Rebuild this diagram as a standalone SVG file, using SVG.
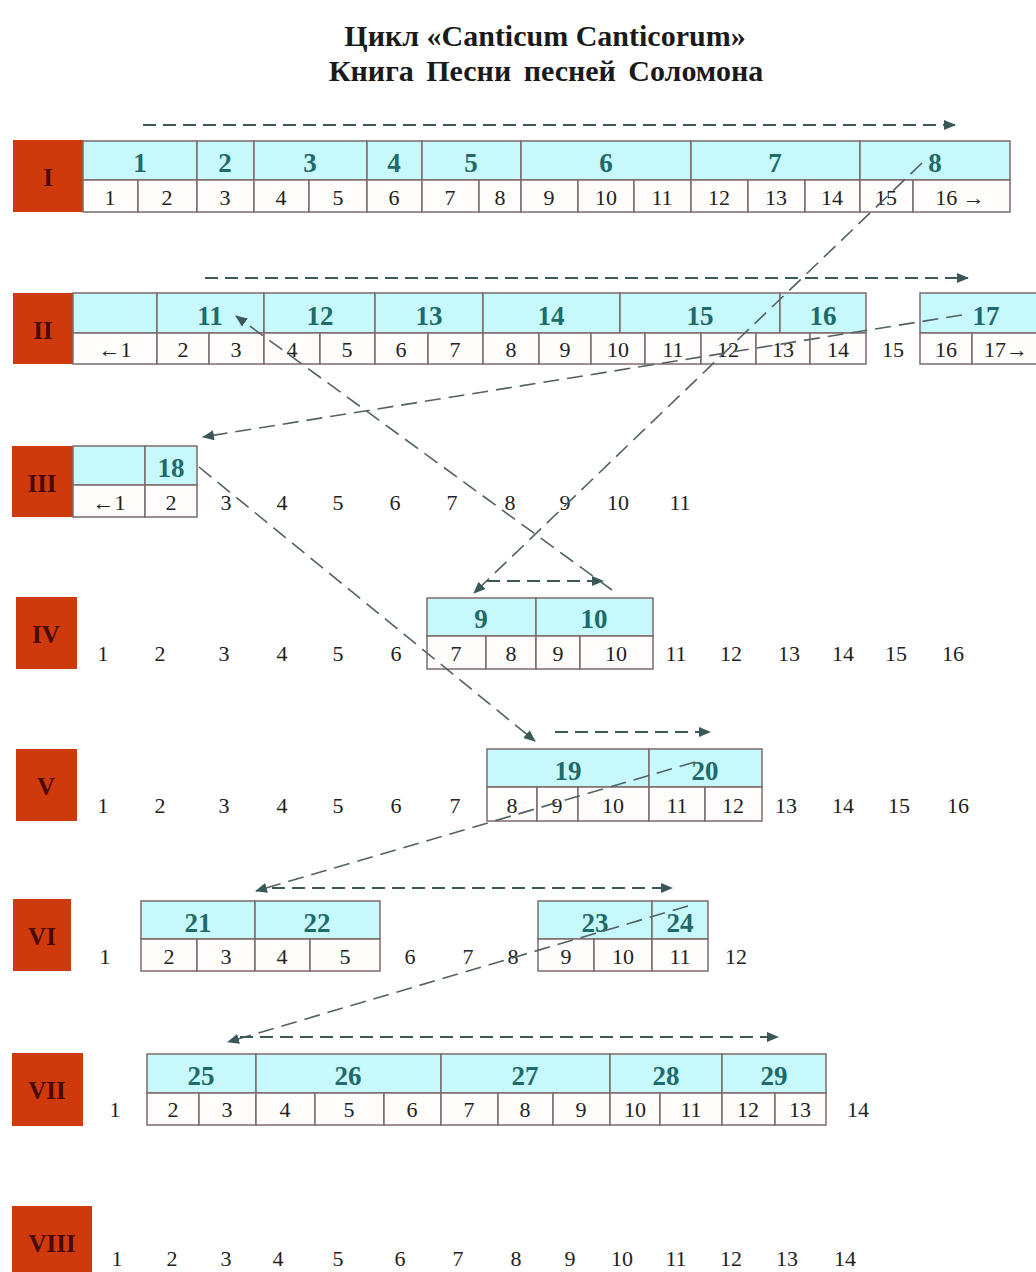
<svg xmlns="http://www.w3.org/2000/svg" width="1036" height="1272" viewBox="0 0 1036 1272">
<defs>
<style>
.bg{fill:#ffffff}
.title{font-family:"Liberation Serif","DejaVu Serif",serif;font-weight:bold;font-size:30px;fill:#1a1a1a;text-anchor:middle}
.box{fill:#CF3A0D}
.rn{font-family:"Liberation Serif",serif;font-weight:bold;font-size:25px;fill:#4A0906;text-anchor:middle}
.tc{fill:#C7F8FB;stroke:#7E6B6B;stroke-width:1.5}
.bc{fill:#FFFCFC;stroke:#7E6B6B;stroke-width:1.5}
.vn{font-family:"Liberation Serif",serif;font-weight:bold;font-size:27px;fill:#1F6A6A;text-anchor:middle}
.n{font-family:"Liberation Serif",serif;font-size:22px;fill:#222222;text-anchor:middle}
.ha{fill:none;stroke:#3A5858;stroke-width:2.2;stroke-dasharray:13 7;marker-end:url(#ah)}
.da{fill:none;stroke:#526262;stroke-width:1.6;stroke-dasharray:16 8;marker-end:url(#ah)}
</style>
<marker id="ah" viewBox="0 0 12 10" refX="11" refY="5" markerWidth="12" markerHeight="10" markerUnits="userSpaceOnUse" orient="auto">
<path d="M0,0 L12,5 L0,10 Z" fill="#3A5858"/>
</marker>
</defs>
<rect class="bg" x="0" y="0" width="1036" height="1272"/>

<g id="title">
<text class="title" x="545" y="46">Цикл «Canticum Canticorum»</text>
<text class="title" x="546" y="81" word-spacing="5">Книга Песни песней Соломона</text>
</g>

<g id="row-I">
<rect class="box" x="13" y="140" width="70" height="72"/>
<text class="rn" x="48" y="186">I</text>
<rect class="tc" x="83" y="141" width="114" height="39"/>
<rect class="tc" x="197" y="141" width="57" height="39"/>
<rect class="tc" x="254" y="141" width="113" height="39"/>
<rect class="tc" x="367" y="141" width="55" height="39"/>
<rect class="tc" x="422" y="141" width="99" height="39"/>
<rect class="tc" x="521" y="141" width="170" height="39"/>
<rect class="tc" x="691" y="141" width="169" height="39"/>
<rect class="tc" x="860" y="141" width="150" height="39"/>
<rect class="bc" x="83" y="180" width="55" height="32"/>
<rect class="bc" x="138" y="180" width="59" height="32"/>
<rect class="bc" x="197" y="180" width="57" height="32"/>
<rect class="bc" x="254" y="180" width="55" height="32"/>
<rect class="bc" x="309" y="180" width="58" height="32"/>
<rect class="bc" x="367" y="180" width="55" height="32"/>
<rect class="bc" x="422" y="180" width="57" height="32"/>
<rect class="bc" x="479" y="180" width="42" height="32"/>
<rect class="bc" x="521" y="180" width="57" height="32"/>
<rect class="bc" x="578" y="180" width="56" height="32"/>
<rect class="bc" x="634" y="180" width="57" height="32"/>
<rect class="bc" x="691" y="180" width="57" height="32"/>
<rect class="bc" x="748" y="180" width="57" height="32"/>
<rect class="bc" x="805" y="180" width="55" height="32"/>
<rect class="bc" x="860" y="180" width="53" height="32"/>
<rect class="bc" x="913" y="180" width="97" height="32"/>
<text class="vn" x="140" y="172">1</text>
<text class="vn" x="225" y="172">2</text>
<text class="vn" x="310" y="172">3</text>
<text class="vn" x="394" y="172">4</text>
<text class="vn" x="471" y="172">5</text>
<text class="vn" x="606" y="172">6</text>
<text class="vn" x="775" y="172">7</text>
<text class="vn" x="935" y="172">8</text>
<text class="n" x="110" y="205">1</text>
<text class="n" x="167" y="205">2</text>
<text class="n" x="225" y="205">3</text>
<text class="n" x="281" y="205">4</text>
<text class="n" x="338" y="205">5</text>
<text class="n" x="394" y="205">6</text>
<text class="n" x="450" y="205">7</text>
<text class="n" x="500" y="205">8</text>
<text class="n" x="549" y="205">9</text>
<text class="n" x="606" y="205">10</text>
<text class="n" x="662" y="205">11</text>
<text class="n" x="719" y="205">12</text>
<text class="n" x="776" y="205">13</text>
<text class="n" x="832" y="205">14</text>
<text class="n" x="886" y="205">15</text>
<text class="n" x="960" y="205">16 →</text>
</g>

<g id="row-II">
<rect class="box" x="13" y="293" width="60" height="71"/>
<text class="rn" x="43" y="339">II</text>
<rect class="tc" x="73" y="293" width="84" height="40"/>
<rect class="tc" x="157" y="293" width="107" height="40"/>
<rect class="tc" x="264" y="293" width="111" height="40"/>
<rect class="tc" x="375" y="293" width="108" height="40"/>
<rect class="tc" x="483" y="293" width="137" height="40"/>
<rect class="tc" x="620" y="293" width="160" height="40"/>
<rect class="tc" x="780" y="293" width="86" height="40"/>
<rect class="tc" x="920" y="293" width="130" height="40"/>
<rect class="bc" x="73" y="333" width="84" height="31"/>
<rect class="bc" x="157" y="333" width="52" height="31"/>
<rect class="bc" x="209" y="333" width="55" height="31"/>
<rect class="bc" x="264" y="333" width="56" height="31"/>
<rect class="bc" x="320" y="333" width="55" height="31"/>
<rect class="bc" x="375" y="333" width="53" height="31"/>
<rect class="bc" x="428" y="333" width="55" height="31"/>
<rect class="bc" x="483" y="333" width="56" height="31"/>
<rect class="bc" x="539" y="333" width="52" height="31"/>
<rect class="bc" x="591" y="333" width="54" height="31"/>
<rect class="bc" x="645" y="333" width="56" height="31"/>
<rect class="bc" x="701" y="333" width="55" height="31"/>
<rect class="bc" x="756" y="333" width="54" height="31"/>
<rect class="bc" x="810" y="333" width="56" height="31"/>
<rect class="bc" x="920" y="333" width="52" height="31"/>
<rect class="bc" x="972" y="333" width="78" height="31"/>
<text class="vn" x="210" y="325">11</text>
<text class="vn" x="320" y="325">12</text>
<text class="vn" x="429" y="325">13</text>
<text class="vn" x="551" y="325">14</text>
<text class="vn" x="700" y="325">15</text>
<text class="vn" x="823" y="325">16</text>
<text class="vn" x="986" y="325">17</text>
<text class="n" x="115" y="357">←1</text>
<text class="n" x="183" y="357">2</text>
<text class="n" x="236" y="357">3</text>
<text class="n" x="292" y="357">4</text>
<text class="n" x="347" y="357">5</text>
<text class="n" x="401" y="357">6</text>
<text class="n" x="455" y="357">7</text>
<text class="n" x="511" y="357">8</text>
<text class="n" x="565" y="357">9</text>
<text class="n" x="618" y="357">10</text>
<text class="n" x="673" y="357">11</text>
<text class="n" x="728" y="357">12</text>
<text class="n" x="783" y="357">13</text>
<text class="n" x="838" y="357">14</text>
<text class="n" x="893" y="357">15</text>
<text class="n" x="946" y="357">16</text>
<text class="n" x="1006" y="357">17→</text>
</g>

<g id="row-III">
<rect class="box" x="12" y="446" width="61" height="71"/>
<text class="rn" x="42" y="492">III</text>
<rect class="tc" x="73" y="446" width="72" height="39"/>
<rect class="tc" x="145" y="446" width="52" height="39"/>
<rect class="bc" x="73" y="485" width="72" height="32"/>
<rect class="bc" x="145" y="485" width="52" height="32"/>
<text class="vn" x="171" y="477">18</text>
<text class="n" x="109" y="510">←1</text>
<text class="n" x="171" y="510">2</text>
<text class="n" x="226" y="510">3</text>
<text class="n" x="282" y="510">4</text>
<text class="n" x="338" y="510">5</text>
<text class="n" x="395" y="510">6</text>
<text class="n" x="452" y="510">7</text>
<text class="n" x="510" y="510">8</text>
<text class="n" x="565" y="510">9</text>
<text class="n" x="618" y="510">10</text>
<text class="n" x="680" y="510">11</text>
</g>

<g id="row-IV">
<rect class="box" x="16" y="597" width="61" height="72"/>
<text class="rn" x="46" y="643">IV</text>
<rect class="tc" x="427" y="598" width="109" height="38"/>
<rect class="tc" x="536" y="598" width="117" height="38"/>
<rect class="bc" x="427" y="636" width="59" height="33"/>
<rect class="bc" x="486" y="636" width="50" height="33"/>
<rect class="bc" x="536" y="636" width="44" height="33"/>
<rect class="bc" x="580" y="636" width="73" height="33"/>
<text class="vn" x="481" y="628">9</text>
<text class="vn" x="594" y="628">10</text>
<text class="n" x="456" y="661">7</text>
<text class="n" x="511" y="661">8</text>
<text class="n" x="558" y="661">9</text>
<text class="n" x="616" y="661">10</text>
<text class="n" x="103" y="661">1</text>
<text class="n" x="160" y="661">2</text>
<text class="n" x="224" y="661">3</text>
<text class="n" x="282" y="661">4</text>
<text class="n" x="338" y="661">5</text>
<text class="n" x="396" y="661">6</text>
<text class="n" x="676" y="661">11</text>
<text class="n" x="731" y="661">12</text>
<text class="n" x="789" y="661">13</text>
<text class="n" x="843" y="661">14</text>
<text class="n" x="896" y="661">15</text>
<text class="n" x="953" y="661">16</text>
</g>

<g id="row-V">
<rect class="box" x="16" y="749" width="61" height="72"/>
<text class="rn" x="46" y="795">V</text>
<rect class="tc" x="487" y="749" width="162" height="38"/>
<rect class="tc" x="649" y="749" width="113" height="38"/>
<rect class="bc" x="487" y="787" width="50" height="34"/>
<rect class="bc" x="537" y="787" width="41" height="34"/>
<rect class="bc" x="578" y="787" width="71" height="34"/>
<rect class="bc" x="649" y="787" width="56" height="34"/>
<rect class="bc" x="705" y="787" width="57" height="34"/>
<text class="vn" x="568" y="780">19</text>
<text class="vn" x="705" y="780">20</text>
<text class="n" x="512" y="813">8</text>
<text class="n" x="557" y="813">9</text>
<text class="n" x="613" y="813">10</text>
<text class="n" x="677" y="813">11</text>
<text class="n" x="733" y="813">12</text>
<text class="n" x="103" y="813">1</text>
<text class="n" x="160" y="813">2</text>
<text class="n" x="224" y="813">3</text>
<text class="n" x="282" y="813">4</text>
<text class="n" x="338" y="813">5</text>
<text class="n" x="396" y="813">6</text>
<text class="n" x="455" y="813">7</text>
<text class="n" x="786" y="813">13</text>
<text class="n" x="843" y="813">14</text>
<text class="n" x="899" y="813">15</text>
<text class="n" x="958" y="813">16</text>
</g>

<g id="row-VI">
<rect class="box" x="13" y="899" width="58" height="72"/>
<text class="rn" x="42" y="945">VI</text>
<rect class="tc" x="141" y="901" width="114" height="38"/>
<rect class="tc" x="255" y="901" width="125" height="38"/>
<rect class="bc" x="141" y="939" width="56" height="32"/>
<rect class="bc" x="197" y="939" width="58" height="32"/>
<rect class="bc" x="255" y="939" width="55" height="32"/>
<rect class="bc" x="310" y="939" width="70" height="32"/>
<rect class="tc" x="538" y="901" width="114" height="38"/>
<rect class="tc" x="652" y="901" width="56" height="38"/>
<rect class="bc" x="538" y="939" width="56" height="32"/>
<rect class="bc" x="594" y="939" width="58" height="32"/>
<rect class="bc" x="652" y="939" width="56" height="32"/>
<text class="vn" x="198" y="932">21</text>
<text class="vn" x="317" y="932">22</text>
<text class="vn" x="595" y="932">23</text>
<text class="vn" x="680" y="932">24</text>
<text class="n" x="169" y="964">2</text>
<text class="n" x="226" y="964">3</text>
<text class="n" x="282" y="964">4</text>
<text class="n" x="345" y="964">5</text>
<text class="n" x="566" y="964">9</text>
<text class="n" x="623" y="964">10</text>
<text class="n" x="680" y="964">11</text>
<text class="n" x="105" y="964">1</text>
<text class="n" x="410" y="964">6</text>
<text class="n" x="468" y="964">7</text>
<text class="n" x="513" y="964">8</text>
<text class="n" x="736" y="964">12</text>
</g>

<g id="row-VII">
<rect class="box" x="12" y="1053" width="71" height="73"/>
<text class="rn" x="47" y="1099">VII</text>
<rect class="tc" x="147" y="1054" width="109" height="39"/>
<rect class="tc" x="256" y="1054" width="185" height="39"/>
<rect class="tc" x="441" y="1054" width="169" height="39"/>
<rect class="tc" x="610" y="1054" width="112" height="39"/>
<rect class="tc" x="722" y="1054" width="104" height="39"/>
<rect class="bc" x="147" y="1093" width="52" height="32"/>
<rect class="bc" x="199" y="1093" width="57" height="32"/>
<rect class="bc" x="256" y="1093" width="59" height="32"/>
<rect class="bc" x="315" y="1093" width="69" height="32"/>
<rect class="bc" x="384" y="1093" width="57" height="32"/>
<rect class="bc" x="441" y="1093" width="57" height="32"/>
<rect class="bc" x="498" y="1093" width="55" height="32"/>
<rect class="bc" x="553" y="1093" width="57" height="32"/>
<rect class="bc" x="610" y="1093" width="50" height="32"/>
<rect class="bc" x="660" y="1093" width="62" height="32"/>
<rect class="bc" x="722" y="1093" width="53" height="32"/>
<rect class="bc" x="775" y="1093" width="51" height="32"/>
<text class="vn" x="201" y="1085">25</text>
<text class="vn" x="348" y="1085">26</text>
<text class="vn" x="525" y="1085">27</text>
<text class="vn" x="666" y="1085">28</text>
<text class="vn" x="774" y="1085">29</text>
<text class="n" x="115" y="1117">1</text>
<text class="n" x="173" y="1117">2</text>
<text class="n" x="227" y="1117">3</text>
<text class="n" x="285" y="1117">4</text>
<text class="n" x="349" y="1117">5</text>
<text class="n" x="412" y="1117">6</text>
<text class="n" x="469" y="1117">7</text>
<text class="n" x="525" y="1117">8</text>
<text class="n" x="581" y="1117">9</text>
<text class="n" x="635" y="1117">10</text>
<text class="n" x="691" y="1117">11</text>
<text class="n" x="748" y="1117">12</text>
<text class="n" x="800" y="1117">13</text>
<text class="n" x="858" y="1117">14</text>
</g>

<g id="row-VIII">
<rect class="box" x="12" y="1206" width="80" height="70"/>
<text class="rn" x="52" y="1252">VIII</text>
<text class="n" x="117" y="1266">1</text>
<text class="n" x="172" y="1266">2</text>
<text class="n" x="226" y="1266">3</text>
<text class="n" x="278" y="1266">4</text>
<text class="n" x="338" y="1266">5</text>
<text class="n" x="400" y="1266">6</text>
<text class="n" x="458" y="1266">7</text>
<text class="n" x="516" y="1266">8</text>
<text class="n" x="570" y="1266">9</text>
<text class="n" x="622" y="1266">10</text>
<text class="n" x="676" y="1266">11</text>
<text class="n" x="731" y="1266">12</text>
<text class="n" x="787" y="1266">13</text>
<text class="n" x="845" y="1266">14</text>
</g>

<g id="connectors">
<path class="ha" d="M143,125 H955"/>
<path class="da" d="M922,163 L474,593"/>
<path class="ha" d="M205,278 H968"/>
<path class="da" d="M962,315 L203,437"/>
<path class="ha" d="M487,581 H603"/>
<path class="da" d="M612,590 L236,316"/>
<path class="da" d="M199,467 L535,741"/>
<path class="ha" d="M555,732 H710"/>
<path class="da" d="M695,762 L256,891"/>
<path class="ha" d="M272,888 H672"/>
<path class="da" d="M688,906 L228,1042"/>
<path class="ha" d="M240,1037 H778"/>
</g>
</svg>
